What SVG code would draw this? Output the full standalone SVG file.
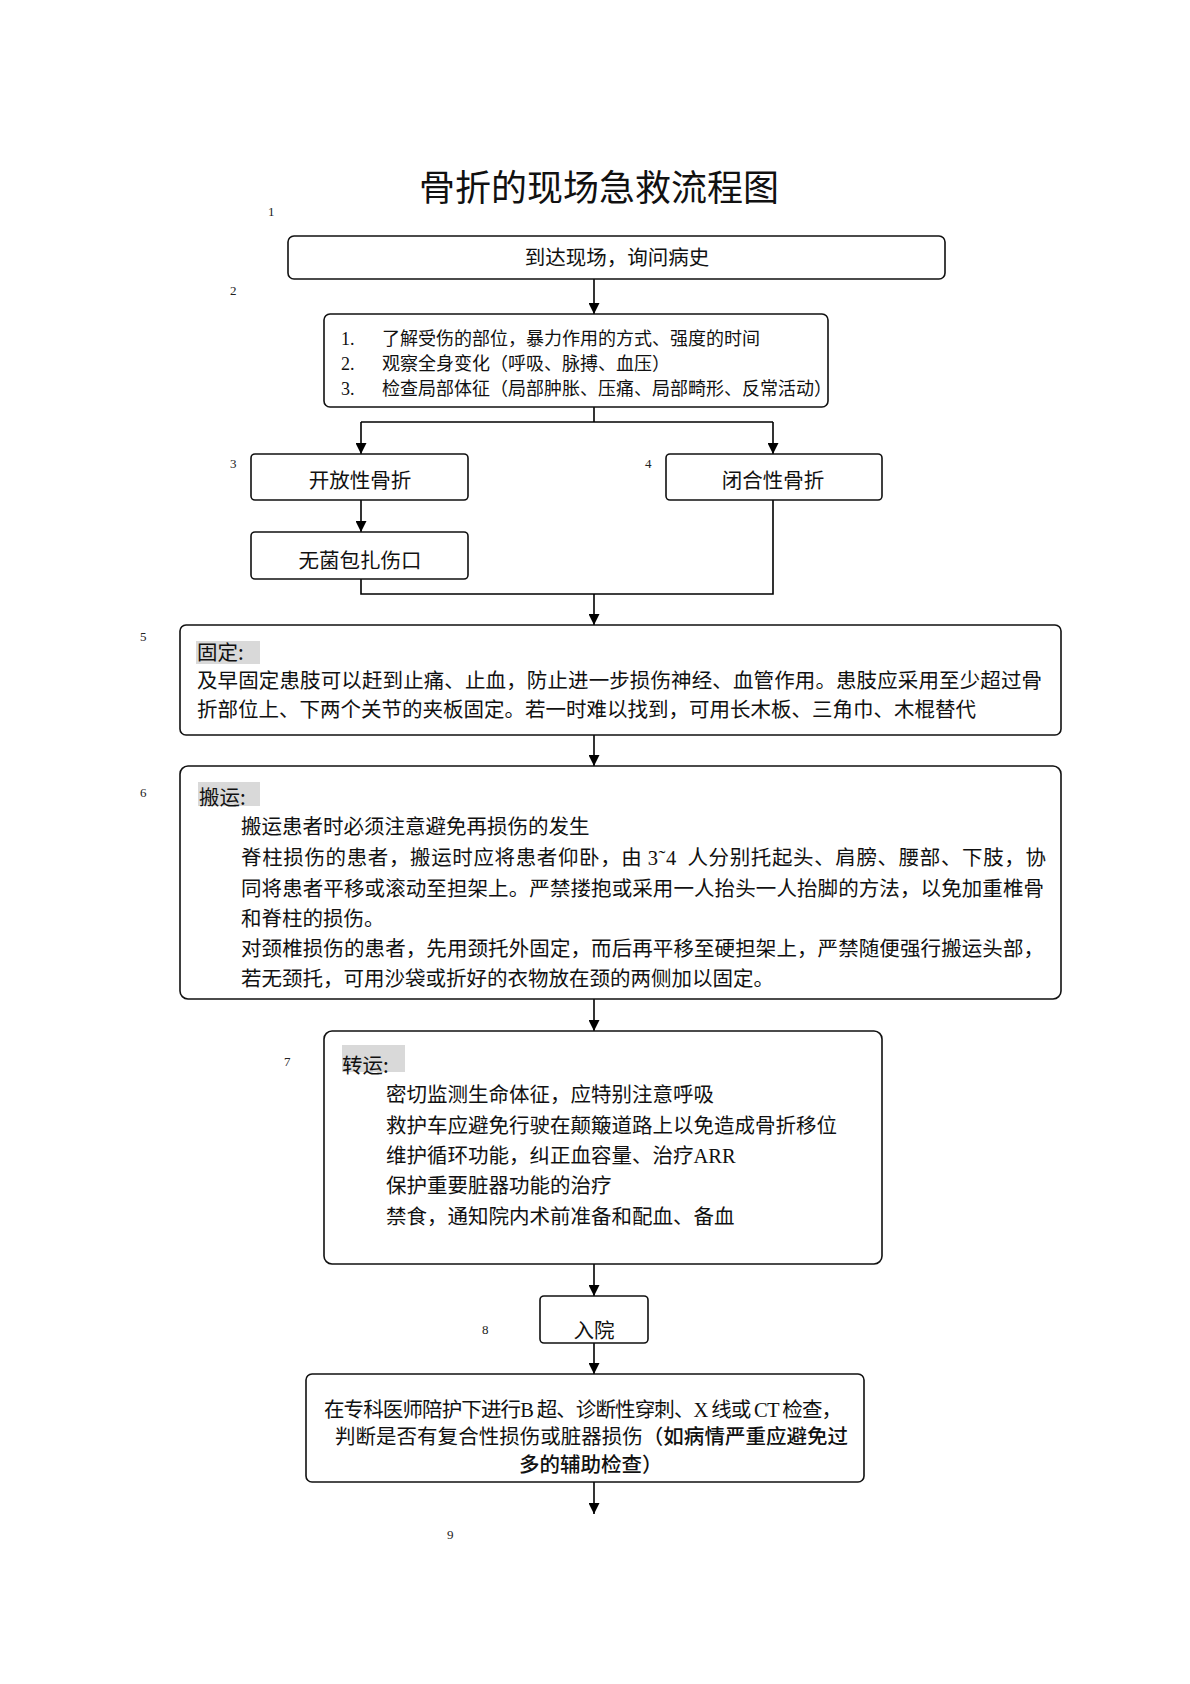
<svg xmlns="http://www.w3.org/2000/svg" width="1190" height="1684" viewBox="0 0 1190 1684">
<defs>
<marker id="arr" viewBox="0 0 10 10" refX="10" refY="5" markerWidth="11" markerHeight="11" markerUnits="userSpaceOnUse" orient="auto">
<path d="M0,0 L10,5 L0,10 z" fill="#000"/>
</marker>
<style>
.box{fill:#fff;stroke:#111;stroke-width:1.6}
.t{font-family:"Noto Sans CJK SC","Noto Sans",sans-serif;font-size:20.5px;fill:#111}
.s{font-family:"Noto Sans CJK SC","Noto Sans",sans-serif;font-size:18px;fill:#111}
.num{font-family:"Liberation Serif",serif;font-size:13px;fill:#222}
.lat{font-family:"Liberation Serif",serif}
.hl{fill:#d9d9d9}
.c{fill:none;stroke:#000;stroke-width:1.6}
</style>
</defs>
<rect width="1190" height="1684" fill="#fff"/>
<text x="599" y="201" text-anchor="middle" font-family="Noto Sans CJK SC, sans-serif" font-size="36" fill="#111">骨折的现场急救流程图</text>
<g id="labels">
<text class="num" x="268" y="216">1</text>
<text class="num" x="230" y="295">2</text>
<text class="num" x="230" y="468">3</text>
<text class="num" x="645" y="468">4</text>
<text class="num" x="140" y="641">5</text>
<text class="num" x="140" y="797">6</text>
<text class="num" x="284" y="1066">7</text>
<text class="num" x="482" y="1334">8</text>
<text class="num" x="447" y="1539">9</text>
</g>
<g id="connectors">
<line class="c" x1="594" y1="279" x2="594" y2="314" marker-end="url(#arr)"/>
<polyline class="c" points="594,407 594,422"/>
<polyline class="c" points="361,422 773,422"/>
<line class="c" x1="361" y1="422" x2="361" y2="454" marker-end="url(#arr)"/>
<line class="c" x1="773" y1="422" x2="773" y2="454" marker-end="url(#arr)"/>
<line class="c" x1="361" y1="500" x2="361" y2="532" marker-end="url(#arr)"/>
<polyline class="c" points="361,579 361,594 773,594 773,500"/>
<line class="c" x1="594" y1="594" x2="594" y2="625" marker-end="url(#arr)"/>
<line class="c" x1="594" y1="735" x2="594" y2="766" marker-end="url(#arr)"/>
<line class="c" x1="594" y1="999" x2="594" y2="1031" marker-end="url(#arr)"/>
<line class="c" x1="594" y1="1264" x2="594" y2="1296" marker-end="url(#arr)"/>
<line class="c" x1="594" y1="1343" x2="594" y2="1374" marker-end="url(#arr)"/>
<line class="c" x1="594" y1="1482" x2="594" y2="1514" marker-end="url(#arr)"/>
</g>
<g id="n1">
<rect class="box" x="288" y="236" width="657" height="43" rx="6"/>
<text class="t" x="617" y="265" text-anchor="middle">到达现场，询问病史</text>
</g>
<g id="n2">
<rect class="box" x="324" y="314" width="504" height="93" rx="6"/>
<text class="s" x="341" y="345"><tspan class="lat">1.</tspan><tspan x="382">了解受伤的部位，暴力作用的方式、强度的时间</tspan></text>
<text class="s" x="341" y="370"><tspan class="lat">2.</tspan><tspan x="382">观察全身变化（呼吸、脉搏、血压）</tspan></text>
<text class="s" x="341" y="395"><tspan class="lat">3.</tspan><tspan x="382">检查局部体征（局部肿胀、压痛、局部畸形、反常活动）</tspan></text>
</g>
<g id="n3">
<rect class="box" x="251" y="454" width="217" height="46" rx="4"/>
<text class="t" x="360" y="488" text-anchor="middle">开放性骨折</text>
</g>
<g id="n4">
<rect class="box" x="666" y="454" width="216" height="46" rx="4"/>
<text class="t" x="773" y="488" text-anchor="middle">闭合性骨折</text>
</g>
<g id="n3b">
<rect class="box" x="251" y="532" width="217" height="47" rx="4"/>
<text class="t" x="360" y="568" text-anchor="middle">无菌包扎伤口</text>
</g>
<g id="n5">
<rect class="box" x="180" y="625" width="881" height="110" rx="6"/>
<rect class="hl" x="196" y="641" width="64" height="23"/>
<text class="t" x="197" y="660">固定:</text>
<text class="t" x="197" y="688" textLength="845" lengthAdjust="spacing">及早固定患肢可以赶到止痛、止血，防止进一步损伤神经、血管作用。患肢应采用至少超过骨</text>
<text class="t" x="197" y="717">折部位上、下两个关节的夹板固定。若一时难以找到，可用长木板、三角巾、木棍替代</text>
</g>
<g id="n6">
<rect class="box" x="180" y="766" width="881" height="233" rx="8"/>
<rect class="hl" x="198" y="782" width="62" height="24"/>
<text class="t" x="199" y="805">搬运:</text>
<text class="t" x="241" y="834">搬运患者时必须注意避免再损伤的发生</text>
<text class="t" x="241" y="865" textLength="805" lengthAdjust="spacing" xml:space="preserve">脊柱损伤的患者，搬运时应将患者仰卧，由 <tspan class="lat">3˜4</tspan>  人分别托起头、肩膀、腰部、下肢，协</text>
<text class="t" x="241" y="896" textLength="803" lengthAdjust="spacing">同将患者平移或滚动至担架上。严禁搂抱或采用一人抬头一人抬脚的方法，以免加重椎骨</text>
<text class="t" x="241" y="926">和脊柱的损伤。</text>
<text class="t" x="241" y="956" textLength="803" lengthAdjust="spacing">对颈椎损伤的患者，先用颈托外固定，而后再平移至硬担架上，严禁随便强行搬运头部，</text>
<text class="t" x="241" y="986">若无颈托，可用沙袋或折好的衣物放在颈的两侧加以固定。</text>
</g>
<g id="n7">
<rect class="box" x="324" y="1031" width="558" height="233" rx="8"/>
<rect class="hl" x="342" y="1045" width="63" height="27"/>
<text class="t" x="342" y="1073">转运:</text>
<text class="t" x="386" y="1102">密切监测生命体征，应特别注意呼吸</text>
<text class="t" x="386" y="1133">救护车应避免行驶在颠簸道路上以免造成骨折移位</text>
<text class="t" x="386" y="1163">维护循环功能，纠正血容量、治疗<tspan class="lat">ARR</tspan></text>
<text class="t" x="386" y="1193">保护重要脏器功能的治疗</text>
<text class="t" x="386" y="1224">禁食，通知院内术前准备和配血、备血</text>
</g>
<g id="n8">
<rect class="box" x="540" y="1296" width="108" height="47" rx="4"/>
<text class="t" x="594" y="1338" text-anchor="middle">入院</text>
</g>
<g id="n9">
<rect class="box" x="306" y="1374" width="558" height="108" rx="6"/>
<text class="t" x="324" y="1417" textLength="518" lengthAdjust="spacing" xml:space="preserve">在专科医师陪护下进行<tspan class="lat">B</tspan> 超、诊断性穿刺、<tspan class="lat">X</tspan> 线或 <tspan class="lat">CT</tspan> 检查，</text>
<text class="t" x="335" y="1444" textLength="513" lengthAdjust="spacing">判断是否有复合性损伤或脏器损伤<tspan font-weight="500">（如病情严重应避免过</tspan></text>
<text class="t" x="519" y="1472" font-weight="500">多的辅助检查）</text>
</g>
</svg>
